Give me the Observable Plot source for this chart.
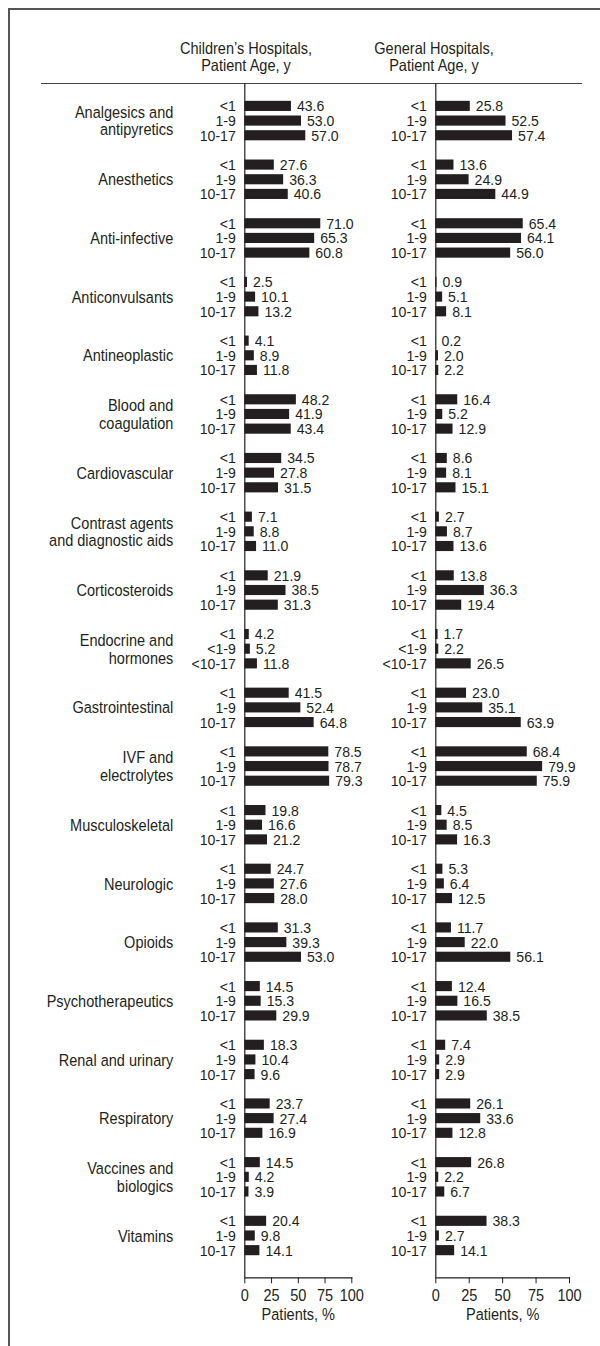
<!DOCTYPE html>
<html><head><meta charset="utf-8">
<script src="https://cdn.jsdelivr.net/npm/d3@7"></script>
<script src="https://cdn.jsdelivr.net/npm/@observablehq/plot@0.6"></script>
<style>
body{margin:0;background:#fff;}
#wrap{position:relative;width:600px;height:1346px;overflow:hidden;background:#fff;
  font-family:"Liberation Sans",Arial,Helvetica,sans-serif;color:#231f20;}
#frame{position:absolute;left:8px;top:8px;width:620px;height:1400px;border-left:2px solid #555;border-top:2px solid #555;}
.hdr{position:absolute;top:40px;width:240px;text-align:center;font-size:16.5px;line-height:17px;transform:scaleX(0.88);transform-origin:50% 50%;white-space:nowrap;}
#rule{position:absolute;left:41px;top:82.5px;width:541px;height:0;border-top:1px solid #444;}
.panel{position:absolute;left:0;top:0;}
</style></head>
<body><div id="wrap">
<div id="frame"></div>
<div class="hdr" style="left:125.5px">Children’s Hospitals,<br>Patient Age, y</div>
<div class="hdr" style="left:314px">General Hospitals,<br>Patient Age, y</div>
<div id="rule"></div>
<div class="panel" id="p1"></div>
<div class="panel" id="p2"></div>
</div>
<script>
const categories = [
  "Analgesics and\nantipyretics","Anesthetics","Anti-infective","Anticonvulsants","Antineoplastic",
  "Blood and\ncoagulation","Cardiovascular","Contrast agents\nand diagnostic aids","Corticosteroids",
  "Endocrine and\nhormones","Gastrointestinal","IVF and\nelectrolytes","Musculoskeletal","Neurologic",
  "Opioids","Psychotherapeutics","Renal and urinary","Respiratory","Vaccines and\nbiologics","Vitamins"
];
const ageLabels = ["<1","1-9","10-17"];
const endocrineAgeLabels = ["<1","<1-9","<10-17"];
const xTicks = [0,25,50,75,100];
const childrensHospitals = [
  [43.6,53.0,57.0],[27.6,36.3,40.6],[71.0,65.3,60.8],[2.5,10.1,13.2],[4.1,8.9,11.8],
  [48.2,41.9,43.4],[34.5,27.8,31.5],[7.1,8.8,11.0],[21.9,38.5,31.3],[4.2,5.2,11.8],
  [41.5,52.4,64.8],[78.5,78.7,79.3],[19.8,16.6,21.2],[24.7,27.6,28.0],[31.3,39.3,53.0],
  [14.5,15.3,29.9],[18.3,10.4,9.6],[23.7,27.4,16.9],[14.5,4.2,3.9],[20.4,9.8,14.1]
];
const generalHospitals = [
  [25.8,52.5,57.4],[13.6,24.9,44.9],[65.4,64.1,56.0],[0.9,5.1,8.1],[0.2,2.0,2.2],
  [16.4,5.2,12.9],[8.6,8.1,15.1],[2.7,8.7,13.6],[13.8,36.3,19.4],[1.7,2.2,26.5],
  [23.0,35.1,63.9],[68.4,79.9,75.9],[4.5,8.5,16.3],[5.3,6.4,12.5],[11.7,22.0,56.1],
  [12.4,16.5,38.5],[7.4,2.9,2.9],[26.1,33.6,12.8],[26.8,2.2,6.7],[38.3,2.7,14.1]
];

const key = (i, j) => i + "|" + j;
const domain = [];
categories.forEach((c, i) => {
  for (let j = 0; j < 3; j++) domain.push(key(i, j));
  if (i < categories.length - 1) domain.push(key(i, "gap"));
});
const step = 14.67, firstCenter = 105.9;
const yRange = [firstCenter - step / 2, firstCenter - step / 2 + domain.length * step];
const H = 1346, axisY = 1277.3;
const ink = "#231f20";
const FONT = '"Liberation Sans",Arial,Helvetica,sans-serif';

function rowsFor(values) {
  const rows = [];
  categories.forEach((c, i) => {
    const labs = i === 9 ? endocrineAgeLabels : ageLabels;
    values[i].forEach((v, j) => rows.push({key: key(i, j), value: v, age: labs[j]}));
  });
  return rows;
}

// narrow the glyphs horizontally around each text's anchor point (condensed face look-alike)
function condense(svg) {
  svg.querySelectorAll("g[aria-label]").forEach(g => {
    const k = g.getAttribute("data-condense") ;
    const factor = g.closest("[data-k]") ? +g.closest("[data-k]").getAttribute("data-k") : null;
  });
  svg.querySelectorAll("text").forEach(t => {
    const fs = parseFloat(t.getAttribute("font-size") || t.parentNode.getAttribute("font-size") || "16.5");
    const k = fs < 16 ? 0.91 : 0.88;
    const tr = t.getAttribute("transform") || "";
    t.setAttribute("transform", (tr + " scale(" + k + ",1)").trim());
  });
  return svg;
}

function panel(values, {width, marginLeft, marginRight, showCats}) {
  const rows = rowsFor(values);
  const catRows = categories.map((c, i) => ({key: key(i, 1), label: c}));
  return condense(Plot.plot({
    width, height: H, marginLeft, marginRight, marginTop: 83, marginBottom: H - axisY,
    style: {fontFamily: FONT, fontSize: "16.5px", color: ink, overflow: "visible", background: "transparent"},
    x: {domain: [0, 100]},
    y: {type: "band", domain, range: yRange, paddingInner: 0.31, paddingOuter: 0.155, axis: null},
    marks: [
      Plot.barX(rows, {x: "value", y: "key", fill: ink}),
      Plot.text(rows, {x: "value", y: "key", text: d => d.value.toFixed(1), textAnchor: "start", dx: 5.5, fill: ink, fontSize: 15.5}),
      Plot.text(rows, {x: 0, y: "key", text: "age", textAnchor: "end", dx: -9, fill: ink, fontSize: 15.5}),
      showCats ? Plot.text(catRows, {x: 0, y: "key", text: "label", textAnchor: "end", dx: -71.5, lineHeight: 1.06, fill: ink}) : null,
      Plot.ruleX([0], {stroke: ink, strokeWidth: 1.2}),
      Plot.frame({anchor: "bottom", stroke: ink, strokeWidth: 1.2}),
      Plot.axisX({ticks: xTicks, tickSize: 6, tickPadding: 5, label: null, stroke: ink, fill: ink}),
      Plot.text(["Patients, %"], {frameAnchor: "bottom", lineAnchor: "top", dy: 30.5, fill: ink})
    ]
  }));
}

document.getElementById("p1").append(panel(childrensHospitals, {width: 380, marginLeft: 244.3, marginRight: 380 - 351.3, showCats: true}));
document.getElementById("p2").append(panel(generalHospitals, {width: 600, marginLeft: 435.3, marginRight: 600 - 569, showCats: false}));
</script>
</body></html>
